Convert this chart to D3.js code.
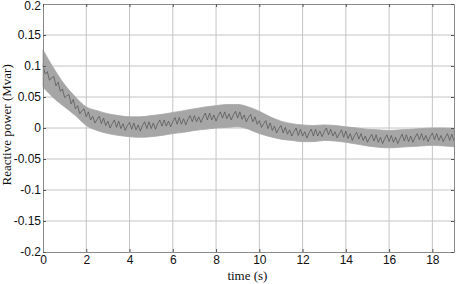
<!DOCTYPE html>
<html>
<head>
<meta charset="utf-8">
<script src="https://cdn.jsdelivr.net/npm/d3@7"></script>
<style>
  body { margin: 0; background: #fff; }
  svg { display: block; }
</style>
</head>
<body>
<div id="chart"></div>
<script>
// values
var xTicks = [0, 2, 4, 6, 8, 10, 12, 14, 16, 18];
var yTicks = [-0.2, -0.15, -0.1, -0.05, 0, 0.05, 0.1, 0.15, 0.2];
var yTickLabels = ["-0.2", "-0.15", "-0.1", "-0.05", "0", "0.05", "0.1", "0.15", "0.2"];

// envelope of the grey band, every 0.5 s
var bandTime = [0, 0.5, 1, 1.5, 2, 2.5, 3, 3.5, 4, 4.5, 5, 5.5, 6, 6.5, 7, 7.5, 8, 8.5, 9, 9.5,
                10, 10.5, 11, 11.5, 12, 12.5, 13, 13.5, 14, 14.5, 15, 15.5, 16, 16.5, 17, 17.5, 18, 18.5, 19];
var bandUpper = [0.126, 0.096, 0.070, 0.050, 0.034, 0.028, 0.023, 0.020, 0.018, 0.018,
                 0.020, 0.022, 0.025, 0.028, 0.031, 0.034, 0.036, 0.038, 0.038, 0.034,
                 0.027, 0.018, 0.011, 0.007, 0.005, 0.004, 0.005, 0.004, 0.002, 0.000,
                 -0.002, -0.003, -0.004, -0.003, -0.002, -0.001, 0.000, 0.000, -0.001];
var bandLower = [0.066, 0.048, 0.034, 0.020, 0.004, -0.004, -0.009, -0.012, -0.014, -0.015,
                 -0.014, -0.012, -0.009, -0.007, -0.004, -0.002, 0.000, 0.001, 0.002, -0.002,
                 -0.009, -0.014, -0.018, -0.020, -0.022, -0.022, -0.020, -0.021, -0.023, -0.026,
                 -0.029, -0.031, -0.032, -0.031, -0.030, -0.029, -0.028, -0.029, -0.030];

// dark trace inside the band, every 0.1 s
var traceStep = 0.1;
var traceValues = [
  0.101, 0.087, 0.091, 0.077, 0.081, 0.083, 0.068, 0.074, 0.059, 0.063,
  0.049, 0.052, 0.054, 0.039, 0.046, 0.031, 0.036, 0.023, 0.028, 0.031,
  0.018, 0.026, 0.013, 0.019, 0.008, 0.014, 0.019, 0.007, 0.016, 0.004,
  0.011, 0.000, 0.007, 0.013, 0.001, 0.011, -0.001, 0.007, -0.004, 0.004,
  0.009, -0.002, 0.008, -0.003, 0.005, -0.005, 0.004, 0.010, -0.001, 0.010,
  -0.001, 0.008, -0.002, 0.007, 0.013, 0.003, 0.013, 0.003, 0.011, 0.002,
  0.010, 0.017, 0.006, 0.017, 0.006, 0.015, 0.005, 0.014, 0.020, 0.010,
  0.020, 0.010, 0.018, 0.009, 0.017, 0.024, 0.013, 0.024, 0.013, 0.021,
  0.011, 0.020, 0.026, 0.016, 0.026, 0.015, 0.023, 0.013, 0.021, 0.027,
  0.016, 0.026, 0.014, 0.021, 0.010, 0.017, 0.022, 0.010, 0.018, 0.006,
  0.012, 0.001, 0.007, 0.012, -0.001, 0.008, -0.004, 0.003, -0.008, -0.001,
  0.004, -0.008, 0.001, -0.010, -0.003, -0.013, -0.006, 0.000, -0.012, -0.002,
  -0.013, -0.006, -0.016, -0.008, -0.002, -0.013, -0.002, -0.013, -0.005, -0.014,
  -0.006, 0.000, -0.011, -0.002, -0.013, -0.006, -0.016, -0.009, -0.003, -0.015,
  -0.005, -0.017, -0.009, -0.020, -0.012, -0.007, -0.018, -0.009, -0.020, -0.013,
  -0.023, -0.016, -0.010, -0.021, -0.011, -0.023, -0.015, -0.025, -0.017, -0.011,
  -0.022, -0.012, -0.023, -0.015, -0.025, -0.017, -0.010, -0.021, -0.011, -0.022,
  -0.013, -0.023, -0.015, -0.009, -0.019, -0.009, -0.020, -0.012, -0.022, -0.014,
  -0.008, -0.019, -0.009, -0.020, -0.012, -0.022, -0.015, -0.009, -0.020, -0.010,
  -0.021];

var W = 457, H = 284;
var margin = {top: 4, right: 3, bottom: 32, left: 43};
var width = W - margin.left - margin.right;
var height = H - margin.top - margin.bottom;

var x = d3.scaleLinear().domain([0, 19]).range([0, width]);
var y = d3.scaleLinear().domain([-0.2, 0.2]).range([height, 0]);

var svg = d3.select("#chart").append("svg")
    .attr("width", W)
    .attr("height", H);

var g = svg.append("g")
    .attr("transform", "translate(" + [margin.left, margin.top] + ")");

// grid
g.append("g").selectAll("line").data(xTicks.filter(function(d) { return d > 0; })).enter()
  .append("line")
    .attr("x1", function(d) { return x(d); })
    .attr("x2", function(d) { return x(d); })
    .attr("y1", 0).attr("y2", height)
    .attr("stroke", "#c4c4c4").attr("stroke-width", 1);

g.append("g").selectAll("line").data(yTicks.filter(function(d) { return d > -0.2 && d < 0.2; })).enter()
  .append("line")
    .attr("y1", function(d) { return y(d); })
    .attr("y2", function(d) { return y(d); })
    .attr("x1", 0).attr("x2", width)
    .attr("stroke", "#c4c4c4").attr("stroke-width", 1);

// grey band
var band = bandTime.map(function(t, i) { return {t: t, hi: bandUpper[i], lo: bandLower[i]}; });
g.append("path")
    .datum(band)
    .attr("fill", "#a6a6a6")
    .attr("stroke", "#a6a6a6")
    .attr("stroke-width", 0.8)
    .attr("d", d3.area()
      .curve(d3.curveMonotoneX)
      .x(function(d) { return x(d.t); })
      .y0(function(d) { return y(d.lo); })
      .y1(function(d) { return y(d.hi); }));

// dark trace
g.append("path")
    .datum(traceValues)
    .attr("fill", "none")
    .attr("stroke", "#505050")
    .attr("stroke-width", 0.7)
    .attr("d", d3.line()
      .x(function(d, i) { return x(i * traceStep); })
      .y(function(d) { return y(d); }));

// axes, MATLAB style ticks pointing inward
g.append("g")
    .attr("transform", "translate(0," + height + ")")
    .call(d3.axisBottom(x).tickValues(xTicks).tickSizeInner(-3).tickSizeOuter(0).tickPadding(3));

var yAxis = g.append("g")
    .call(d3.axisLeft(y).tickValues(yTicks).tickSizeInner(-3).tickSizeOuter(0).tickPadding(2)
      .tickFormat(function(d, i) { return yTickLabels[i]; }));

// top label sits on the edge, nudge it just inside
yAxis.selectAll(".tick text").filter(function(d) { return d === 0.2; }).attr("dy", "0.45em");

g.append("g")
    .call(d3.axisTop(x).tickValues(xTicks).tickSizeInner(-3).tickSizeOuter(0).tickFormat(""));

g.append("g")
    .attr("transform", "translate(" + width + ",0)")
    .call(d3.axisRight(y).tickValues(yTicks).tickSizeInner(-3).tickSizeOuter(0).tickFormat(""));

svg.selectAll(".domain").attr("stroke", "#8a8a8a");
svg.selectAll(".tick line").attr("stroke", "#555");
svg.selectAll(".tick text")
    .attr("font-family", "'Liberation Sans', Arial, sans-serif")
    .attr("font-size", 12)
    .attr("fill", "#111");

// axis titles
svg.append("text")
    .attr("x", margin.left + x(9.45))
    .attr("y", 280)
    .attr("text-anchor", "middle")
    .attr("font-family", "'Liberation Serif', 'Times New Roman', serif")
    .attr("font-size", 13)
    .attr("fill", "#111")
    .text("time (s)");

svg.append("text")
    .attr("transform", "translate(11," + (margin.top + y(0.005)) + ") rotate(-90)")
    .attr("text-anchor", "middle")
    .attr("font-family", "'Liberation Serif', 'Times New Roman', serif")
    .attr("font-size", 13)
    .attr("fill", "#111")
    .text("Reactive power (Mvar)");
</script>
</body>
</html>
